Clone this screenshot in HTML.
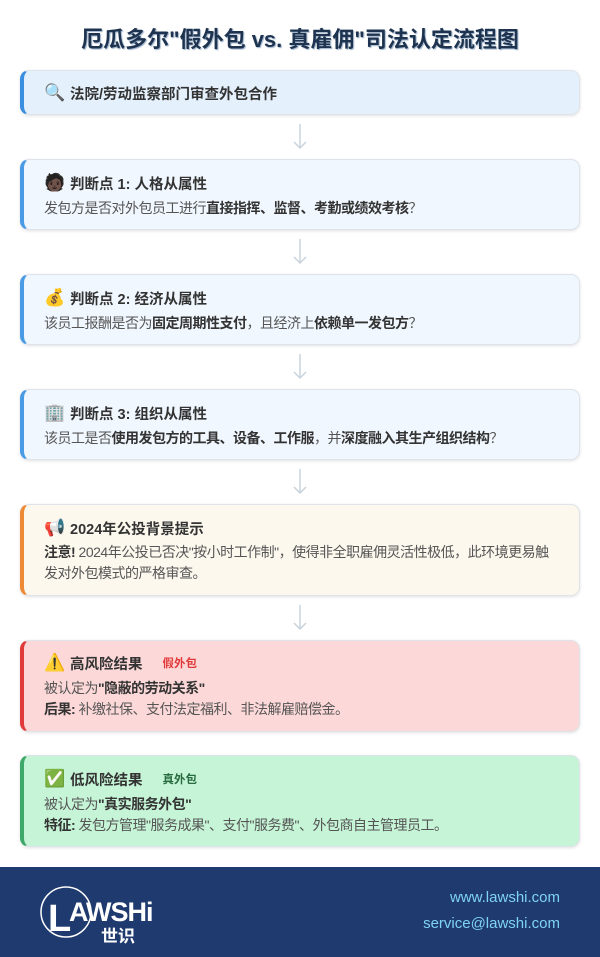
<!DOCTYPE html>
<html><head><meta charset="utf-8"><style>
*{margin:0;padding:0;box-sizing:border-box}
body{width:600px;height:957px;background:#fff;font-family:"Liberation Sans","Noto Sans CJK SC",sans-serif;position:relative;overflow:hidden;color:#333}
.t{position:absolute;left:0;width:600px;top:22px;text-align:center;font-size:22px;font-weight:bold;color:#1e3350;text-shadow:1px 1px 1px #9bb0c8}
.c{position:absolute;left:20px;width:560px;border-radius:9px;border:1px solid #dfe4ea;border-left:4px solid #3a8ee0;box-shadow:0 1px 3px rgba(0,0,0,.12);padding:0 0 0 20px}
.h{font-size:14.5px;font-weight:bold;color:#333;display:flex;align-items:center;height:22px}
.i{width:26px;font-size:17px;display:inline-block}
.d{font-size:14px;color:#555;line-height:21px;letter-spacing:-0.5px}
.d b{color:#333}
.a{position:absolute;left:292px;width:16px;height:26px}
.tag{font-size:11.5px;margin-left:20px;font-weight:bold}
</style></head><body>
<div class="t">厄瓜多尔"假外包 vs. 真雇佣"司法认定流程图</div>

<div class="c" style="top:70px;height:45px;background:#e4f0fc;padding-top:11px"><div class="h"><span class="i">🔍</span>法院/劳动监察部门审查外包合作</div></div>
<svg class="a" style="top:124px"><path d="M8 0V24M2 18L8 24L14 18" stroke="#c9d3dd" stroke-width="1.5" fill="none"/></svg>

<div class="c" style="top:159px;height:71px;background:#f0f7fe;border-left-color:#4a9be6;padding-top:12px"><div class="h"><span class="i">🧑🏿</span>判断点 1: 人格从属性</div><div class="d" style="margin-top:4px">发包方是否对外包员工进行<b>直接指挥、监督、考勤或绩效考核</b>？</div></div>
<svg class="a" style="top:239px"><path d="M8 0V24M2 18L8 24L14 18" stroke="#c9d3dd" stroke-width="1.5" fill="none"/></svg>

<div class="c" style="top:274px;height:71px;background:#f0f7fe;border-left-color:#4a9be6;padding-top:12px"><div class="h"><span class="i">💰</span>判断点 2: 经济从属性</div><div class="d" style="margin-top:4px">该员工报酬是否为<b>固定周期性支付</b>，且经济上<b>依赖单一发包方</b>？</div></div>
<svg class="a" style="top:354px"><path d="M8 0V24M2 18L8 24L14 18" stroke="#c9d3dd" stroke-width="1.5" fill="none"/></svg>

<div class="c" style="top:389px;height:71px;background:#f0f7fe;border-left-color:#4a9be6;padding-top:12px"><div class="h"><span class="i">🏢</span>判断点 3: 组织从属性</div><div class="d" style="margin-top:4px">该员工是否<b>使用发包方的工具、设备、工作服</b>，并<b>深度融入其生产组织结构</b>？</div></div>
<svg class="a" style="top:469px"><path d="M8 0V24M2 18L8 24L14 18" stroke="#c9d3dd" stroke-width="1.5" fill="none"/></svg>

<div class="c" style="top:504px;height:92px;background:#fdf8ee;border-left-color:#ee8a35;padding-top:12px;padding-right:22px"><div class="h"><span class="i">📢</span>2024年公投背景提示</div><div class="d" style="margin-top:3px"><b>注意!</b> 2024年公投已否决"按小时工作制"，使得非全职雇佣灵活性极低，此环境更易触发对外包模式的严格审查。</div></div>
<svg class="a" style="top:605px"><path d="M8 0V24M2 18L8 24L14 18" stroke="#c9d3dd" stroke-width="1.5" fill="none"/></svg>

<div class="c" style="top:640px;height:92px;background:#fdd8d8;border-left-color:#e03a3a;padding-top:11px"><div class="h"><span class="i">⚠️</span>高风险结果<span class="tag" style="color:#e03a3a">假外包</span></div><div class="d" style="margin-top:4px">被认定为<b>"隐蔽的劳动关系"</b><br><b>后果:</b> 补缴社保、支付法定福利、非法解雇赔偿金。</div></div>

<div class="c" style="top:755px;height:92px;background:#c6f4d6;border-left-color:#3ea86a;padding-top:12px"><div class="h"><span class="i">✅</span>低风险结果<span class="tag" style="color:#276b3f">真外包</span></div><div class="d" style="margin-top:4px">被认定为<b>"真实服务外包"</b><br><b>特征:</b> 发包方管理"服务成果"、支付"服务费"、外包商自主管理员工。</div></div>

<div style="position:absolute;left:0;top:867px;width:600px;height:90px;background:#1f3a6e">
<svg style="position:absolute;left:34px;top:12px" width="140" height="70"><circle cx="32" cy="33" r="25" fill="none" stroke="#fff" stroke-width="1.5"/>
<text x="14" y="52" fill="#fff" font-size="38" font-weight="bold" font-family="Liberation Sans,sans-serif">L</text>
<text x="35" y="42" fill="#fff" font-size="27" font-weight="bold" font-family="Liberation Sans,sans-serif" letter-spacing="-1">AWSHi</text>
<text x="67" y="63" fill="#fff" font-size="17" font-weight="bold" font-family="Noto Sans CJK SC,sans-serif">世识</text></svg>
<div style="position:absolute;right:40px;top:18px;text-align:right;color:#7fd3f5;font-size:15px;line-height:26px">www.lawshi.com<br>service@lawshi.com</div>
</div>
</body></html>
